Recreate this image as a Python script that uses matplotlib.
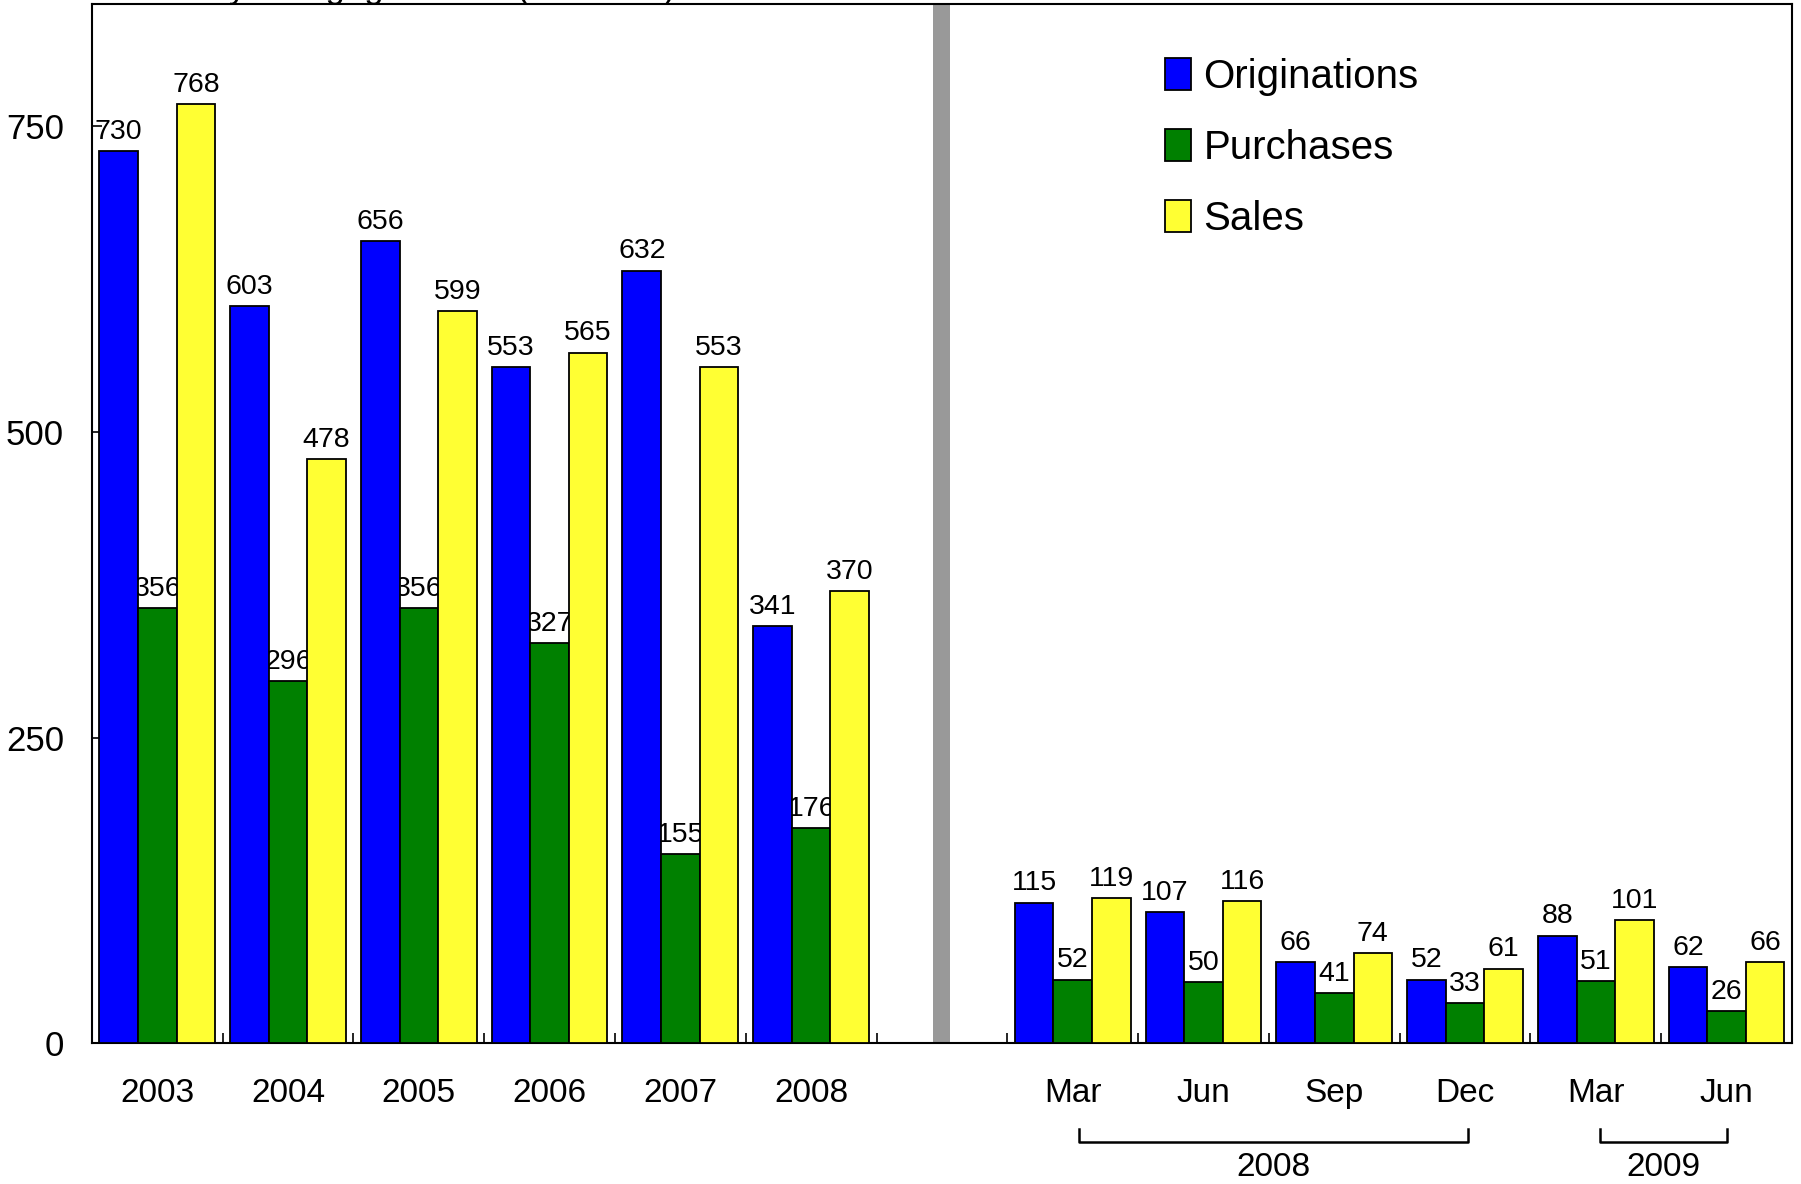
import numpy as np
import matplotlib
matplotlib.use("Agg")
import matplotlib.pyplot as plt

plt.rcParams['font.family'] = ['Liberation Sans', 'DejaVu Sans']

# annual totals 2003-2008, then quarterly 2008-2009
periods = ['2003', '2004', '2005', '2006', '2007', '2008', '',
           'Mar', 'Jun', 'Sep', 'Dec', 'Mar', 'Jun']
originations = [730, 603, 656, 553, 632, 341, None, 115, 107, 66, 52, 88, 62]
purchases = [356, 296, 356, 327, 155, 176, None, 52, 50, 41, 33, 51, 26]
sales = [768, 478, 599, 565, 553, 370, None, 119, 116, 74, 61, 101, 66]

series = [('Originations', originations, '#0000ff'),
          ('Purchases', purchases, '#008000'),
          ('Sales', sales, '#ffff33')]

fig = plt.figure(figsize=(18.01, 11.84), dpi=100)
ax = fig.add_axes([0.051, 0.119, 0.944, 0.8775])

x = np.arange(len(periods))
w = 0.295
for k, (name, vals, color) in enumerate(series):
    xs = [i + (k - 1) * w for i, v in enumerate(vals) if v is not None]
    ys = [v for v in vals if v is not None]
    ax.bar(xs, ys, width=w, color=color, edgecolor='black', linewidth=1.3,
           label=name, zorder=3)
    for xi, yi in zip(xs, ys):
        ax.text(xi, yi + 5, str(yi), ha='center', va='bottom', fontsize=20.5,
                zorder=2)

# divider between annual and quarterly data
ax.axvspan(5.935, 6.065, color='#999999', zorder=1, lw=0)

ax.set_xlim(-0.5, len(periods) - 0.5)
ax.set_ylim(0, 850)
ax.set_yticks([0, 250, 500, 750])
ax.set_xticks(x)
ax.set_xticklabels(periods)
ax.set_xticks(np.arange(-0.5, len(periods)), minor=True)
ax.tick_params(axis='x', which='major', length=0, labelsize=24, pad=25)
ax.tick_params(axis='x', which='minor', direction='in', length=7, width=1.2)
ax.tick_params(axis='y', direction='in', length=7, width=1.2, labelsize=25,
               pad=20)
for s in ax.spines.values():
    s.set_linewidth(1.5)

leg = ax.legend(loc='upper left', bbox_to_anchor=(0.61, 0.983), frameon=False,
                fontsize=29, handlelength=0.65, handleheight=0.85,
                handletextpad=0.3, labelspacing=0.82)

# year brackets under the quarterly labels
def bracket(x0, x1, label):
    y0 = -0.095
    ax.plot([x0, x0, x1, x1], [y0 + 0.012, y0, y0, y0 + 0.012], color='black',
            lw=1.8, transform=ax.get_xaxis_transform(), clip_on=False)
    ax.text((x0 + x1) / 2, y0 - 0.01, label, ha='center', va='top',
            fontsize=24, transform=ax.get_xaxis_transform())

bracket(7.05, 10.02, '2008')
bracket(11.03, 12.0, '2009')

fig.text(0.019, 1.0015, 'Thrift Industry Mortgage Loans ($ billions)',
         ha='left', va='baseline', fontsize=25)

fig.savefig('out.png', dpi=100)
